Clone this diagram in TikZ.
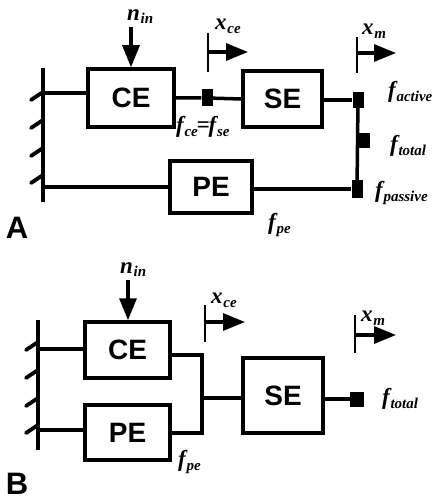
\documentclass[tikz,border=0pt]{standalone}
\usepackage{fontspec}
\setmainfont{Liberation Serif}
\newfontfamily\boxfont{Liberation Sans}
\usetikzlibrary{arrows.meta}
\newcommand{\lbl}[2]{\bfseries\itshape #1\kern0.03em\raisebox{-0.35ex}{\fontsize{15}{15}\selectfont #2}}
\begin{document}
\begin{tikzpicture}[x=1pt,y=-1pt,
  wire/.style={line width=3.5pt},
  blockbox/.style={draw,line width=3.5pt,inner sep=0pt,font=\boxfont\bfseries\fontsize{28}{28}\selectfont},
  blk/.style={fill=black,draw=none,inner sep=0pt},
  lab/.style={inner sep=0pt,font=\fontsize{23}{23}\selectfont},
  panellab/.style={inner sep=0pt,font=\boxfont\bfseries\fontsize{31}{31}\selectfont},
  wallline/.style={line width=3.8pt},
  hatch/.style={line width=3.8pt,line cap=round},
  bigarrow/.style={line width=3.2pt,-{Triangle[length=22pt,width=17pt]}},
  marker/.style={line width=2.8pt}
]
\useasboundingbox (0,0) rectangle (433,502);

% ================= Panel A =================
\coordinate (wAt) at (43,68);
\coordinate (wAb) at (43,202);
\draw[wallline] (wAt) -- (wAb);
\foreach \yy in {92,120,148,175}
  \draw[hatch] (43,\yy) -- (31,\yy+8);

\node[blockbox,minimum width=86pt,minimum height=58pt] (CEa) at (131,98) {CE};
\node[blockbox,minimum width=79pt,minimum height=56pt] (SEa) at (282.5,99) {SE};
\node[blockbox,minimum width=82pt,minimum height=52pt] (PEa) at (211,187) {PE};

\node[blk,minimum width=11pt,minimum height=17pt] (sq1) at (207,98) {};
\node[blk,minimum width=11pt,minimum height=16pt] (sqa) at (358,100) {};
\node[blk,minimum width=11pt,minimum height=15pt] (sqt) at (364,141) {};
\node[blk,minimum width=11pt,minimum height=18pt] (sqp) at (357,189) {};

\coordinate (wA1) at (43,93);
\coordinate (wA2) at (43,187);
\draw[wire] (wA1) -- (wA1 -| CEa.west);
\draw[wire] (wA2) -- (wA2 -| PEa.west);
\draw[wire] (CEa.east) -- (sq1) -- (SEa.west);
\draw[wire] (SEa.east |- sqa) -- (sqa);
\draw[wire] (PEa.east |- sqp) -- (sqp);
\draw[wire] (sqa.center) -- (sqp.center);

\coordinate (ninA) at (131,27);
\draw[bigarrow] (ninA) -- (CEa.north);
\node[lab,anchor=south west] (nA) at (127,24) {\lbl{n}{in}};

\coordinate (xceAt) at (208,33);
\coordinate (xceAb) at (208,72);
\coordinate (xceAh) at (248,52);
\draw[marker] (xceAt) -- (xceAb);
\draw[bigarrow] (xceAt |- xceAh) -- (xceAh);
\node[lab,anchor=west] (xceA) at (215,26) {\lbl{x}{ce}};

\coordinate (xmAt) at (357,37);
\coordinate (xmAb) at (357,73);
\coordinate (xmAh) at (396,53);
\draw[marker] (xmAt) -- (xmAb);
\draw[bigarrow] (xmAt |- xmAh) -- (xmAh);
\node[lab,anchor=west] (xmA) at (362,31) {\lbl{x}{m}};

\node[lab,anchor=west] (fce) at (176,127) {\lbl{f}{ce}\kern-0.05em=\kern-0.05em\lbl{f}{se}};
\node[lab,anchor=west] (fact) at (388,92) {\lbl{f}{active}};
\node[lab,anchor=west] (ftotA) at (390,146) {\lbl{f}{total}};
\node[lab,anchor=west] (fpas) at (375,193) {\lbl{f}{passive}};
\node[lab,anchor=west] (fpeA) at (268,225) {\lbl{f}{pe}};
\node[panellab] (A) at (17,228) {A};

% ================= Panel B =================
\coordinate (wBt) at (38,320);
\coordinate (wBb) at (38,450);
\draw[wallline] (wBt) -- (wBb);
\foreach \yy in {342,370,398,425}
  \draw[hatch] (38,\yy) -- (26,\yy+8);

\node[blockbox,minimum width=85pt,minimum height=56pt] (CEb) at (127.5,350) {CE};
\node[blockbox,minimum width=85pt,minimum height=55pt] (PEb) at (127.5,432.5) {PE};
\node[blockbox,minimum width=80pt,minimum height=75pt] (SEb) at (283,395.5) {SE};
\node[blk,minimum width=14pt,minimum height=15pt] (sqB) at (357,399) {};

\coordinate (wB1) at (38,349);
\coordinate (wB2) at (38,430);
\draw[wire] (wB1) -- (wB1 -| CEb.west);
\draw[wire] (wB2) -- (wB2 -| PEb.west);
\coordinate (jt) at (202,355);
\coordinate (jb) at (202,433);
\coordinate (jm) at (202,398);
\draw[wire] (CEb.east |- jt) -- (jt) -- (jb) -- (PEb.east |- jb);
\draw[wire] (jm) -- (SEb.west |- jm);
\draw[wire] (SEb.east |- sqB) -- (sqB);

\coordinate (ninB) at (128,280);
\draw[bigarrow] (ninB) -- (CEb.north -| ninB);
\node[lab,anchor=south west] (nB) at (120,277) {\lbl{n}{in}};

\coordinate (xceBt) at (205,305);
\coordinate (xceBb) at (205,342);
\coordinate (xceBh) at (245,322);
\draw[marker] (xceBt) -- (xceBb);
\draw[bigarrow] (xceBt |- xceBh) -- (xceBh);
\node[lab,anchor=west] (xceB) at (211,300) {\lbl{x}{ce}};

\coordinate (xmBt) at (355,315);
\coordinate (xmBb) at (355,353);
\coordinate (xmBh) at (396,335);
\draw[marker] (xmBt) -- (xmBb);
\draw[bigarrow] (xmBt |- xmBh) -- (xmBh);
\node[lab,anchor=west] (xmB) at (361,318) {\lbl{x}{m}};

\node[lab,anchor=west] (ftotB) at (382,399) {\lbl{f}{total}};
\node[lab,anchor=west] (fpeB) at (178,462) {\lbl{f}{pe}};
\node[panellab,anchor=south] (B) at (17,495) {B};
\end{tikzpicture}
\end{document}
